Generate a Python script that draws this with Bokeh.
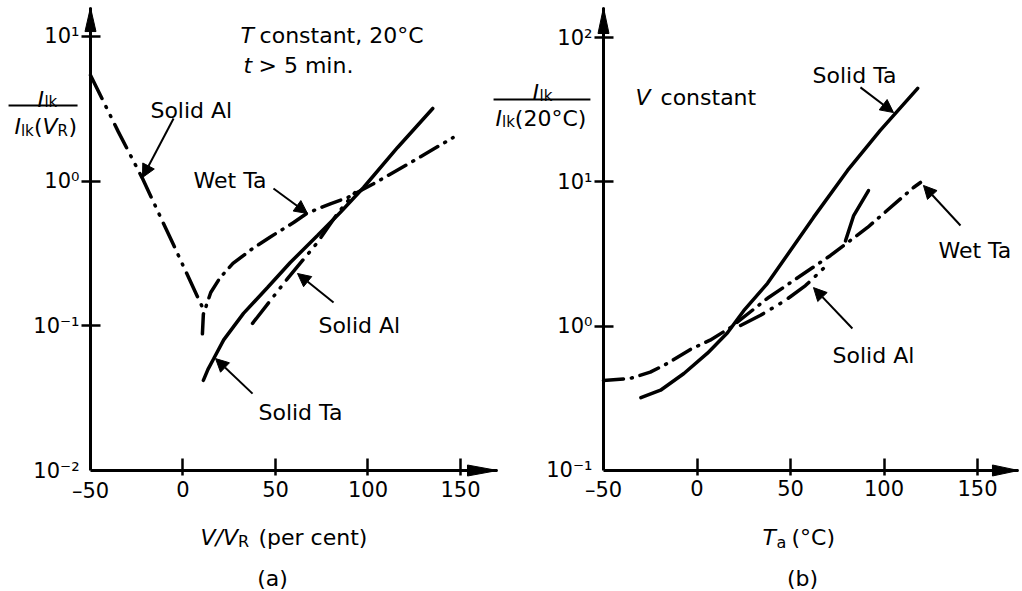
from bokeh.plotting import figure
from bokeh.models import (Label, Arrow, NormalHead, FixedTicker, Range1d,
                          LinearAxis, LogAxis, LogScale, LinearScale)
from bokeh.embed import file_html
from bokeh.resources import INLINE

FONT = "DejaVu Sans"

# ---- (a) leakage current ratio vs applied voltage (per cent of rated), 20 degC ----
a_al_rev_x = [-50, -35, -22, -5, 11]
a_al_rev_y = [5.4, 2.2, 1.05, 0.36, 0.13]

a_al_fwd_x = [37.6, 56.5, 72.7, 83.5, 93]
a_al_fwd_y = [0.104, 0.212, 0.377, 0.598, 0.835]

a_wet_ta_x = [10.5, 11, 15, 20, 27, 38, 47, 60, 67, 80, 89, 103, 125, 146]
a_wet_ta_y = [0.088, 0.12, 0.17, 0.215, 0.27, 0.345, 0.41, 0.52, 0.6, 0.70, 0.77, 0.96, 1.39, 2.0]

a_solid_ta_x = [11, 13.5, 16.5, 22, 32.7, 45.7, 58, 72.7, 85, 97.6, 116, 135]
a_solid_ta_y = [0.042, 0.050, 0.059, 0.080, 0.122, 0.184, 0.274, 0.421, 0.607, 0.904, 1.71, 3.18]

a_x_ticks = [0, 50, 100, 150]
a_y_ticks = [0.1, 1, 10]
a_y_labels = {0.1: "10\u207b\u00b9", 1: "10\u2070", 10: "10\u00b9"}

# ---- (b) leakage current ratio vs ambient temperature, constant voltage ----
b_solid_ta_x = [-30, -19.5, -7, 5.6, 16.3, 25, 37.7, 62.3, 80.5, 98, 118]
b_solid_ta_y = [0.32, 0.36, 0.47, 0.65, 0.90, 1.28, 1.98, 5.67, 12.0, 22.7, 44.4]

b_wet_ta_x = [-50, -35.6, -25, -16, -3.5, 7, 18, 37.7, 51.6, 71.4, 91.2, 115.8, 119.5]
b_wet_ta_y = [0.42, 0.435, 0.48, 0.55, 0.69, 0.80, 0.98, 1.56, 2.07, 3.09, 4.83, 9.14, 9.9]

b_wet_ta_hook_x = [79.4, 83.7, 91.7]
b_wet_ta_hook_y = [3.9, 5.8, 8.7]

b_al_x = [23.3, 34, 47.3, 58, 67.6]
b_al_y = [1.01, 1.19, 1.51, 1.91, 2.51]

b_x_ticks = [0, 50, 100, 150]
b_y_ticks = [1, 10, 100]
b_y_labels = {1: "10\u2070", 10: "10\u00b9", 100: "10\u00b2"}

DASH_DOT = "20 8 1 8"
DASH_DOT_DOT = "26 9 1 9 1 9"
LW = 3.5

# One canvas; panel (a) uses the default ranges, panel (b) the named "b" ranges.
p = figure(width=1022, height=591,
           x_range=Range1d(-98.65, 453.8),
           y_range=Range1d(10 ** -2.8363, 10 ** 1.2488), y_axis_type="log",
           title=None, output_backend="svg", toolbar_location=None,
           min_border=0, min_border_left=0, min_border_right=0,
           min_border_top=0, min_border_bottom=0)
p.extra_x_ranges = {"b": Range1d(-372.46, 174.06)}
p.extra_y_ranges = {"b": Range1d(10 ** -1.8384, 10 ** 2.2564)}
p.extra_x_scales = {"b": LinearScale()}
p.extra_y_scales = {"b": LogScale()}
p.xgrid.visible = False
p.ygrid.visible = False
p.outline_line_color = None
p.background_fill_color = "white"
p.border_fill_color = "white"

A = dict(x_range_name="default", y_range_name="default")
B = dict(x_range_name="b", y_range_name="b")


def style_axes(xa, ya, x_end, y_start, y_end):
    for ax in (xa, ya):
        ax.axis_line_width = 3
        ax.axis_line_color = "black"
        ax.major_tick_line_width = 2.5
        ax.major_tick_line_color = "black"
        ax.minor_tick_line_color = None
        ax.major_label_text_font = FONT
        ax.major_label_text_font_size = "21px"
        ax.major_label_text_color = "black"
    xa.fixed_location = y_start
    xa.bounds = (-50, x_end)
    ya.fixed_location = -50
    ya.bounds = (y_start, y_end)
    xa.major_tick_in = 12
    xa.major_tick_out = 5
    xa.major_label_standoff = 5
    ya.major_tick_in = 10
    ya.major_tick_out = 9
    ya.major_label_standoff = 2


def text(rng, x, y, s, size=22, italic=False, align="left", baseline="alphabetic"):
    p.add_layout(Label(x=x, y=y, text=s, text_font=FONT, text_font_size=f"{size}px",
                       text_font_style="italic" if italic else "normal",
                       text_color="black", text_align=align, text_baseline=baseline, **rng))


def pointer(rng, x0, y0, x1, y1):
    p.add_layout(Arrow(x_start=x0, y_start=y0, x_end=x1, y_end=y1, line_width=2,
                       line_color="black",
                       end=NormalHead(size=13, fill_color="black", line_color="black"), **rng))


def rule(rng, x0, x1, y):
    p.add_layout(Arrow(x_start=x0, y_start=y, x_end=x1, y_end=y, line_width=2,
                       line_color="black", end=None, **rng))


def axis_heads(rng, x_end, y_start, y_end, px_x, px_dec, len_x, len_y):
    # filled arrow tips at the far ends of both axes
    half = 5.5
    dy = 10 ** (half / px_dec)
    p.patch([x_end, x_end - len_x / px_x, x_end - len_x / px_x],
            [y_start, y_start * dy, y_start / dy],
            fill_color="black", line_color="black", line_width=1, **rng)
    y_base = y_end / 10 ** (len_y / px_dec)
    p.patch([-50, -50 - half / px_x, -50 + half / px_x],
            [y_end, y_base, y_base],
            fill_color="black", line_color="black", line_width=1, **rng)


def curve(rng, xs, ys, dash="solid"):
    p.line(xs, ys, line_width=LW, line_color="black", line_dash=dash, line_cap="round", **rng)


# ================= panel (a) =================
xa_a, ya_a = p.xaxis[0], p.yaxis[0]
style_axes(xa_a, ya_a, 170, 0.01, 10 ** 1.2)
xa_a.ticker = FixedTicker(ticks=a_x_ticks)
ya_a.ticker = FixedTicker(ticks=a_y_ticks)
ya_a.major_label_overrides = a_y_labels

curve(A, a_al_rev_x, a_al_rev_y, DASH_DOT_DOT)
curve(A, a_al_fwd_x, a_al_fwd_y, DASH_DOT_DOT)
curve(A, a_wet_ta_x, a_wet_ta_y, DASH_DOT)
curve(A, a_solid_ta_x, a_solid_ta_y)

axis_heads(A, 170, 0.01, 10 ** 1.2, 1.85, 144.67, 30, 24)
text(A, -50, 10 ** -2.057, "\u201350", size=21, align="center", baseline="top")
text(A, -55.9, 0.01, "10\u207b\u00b2", size=21, align="right", baseline="middle")

text(A, 31.1, 10 ** 1.007, "T", italic=True)
text(A, 41.4, 10 ** 1.007, "constant, 20\u00b0C")
text(A, 32.7, 10 ** 0.80, "t", italic=True)
text(A, 40.8, 10 ** 0.80, "> 5 min.")

text(A, -17.6, 3.07, "Solid Al")
pointer(A, -5.1, 2.71, -21.9, 1.06)
text(A, 5.7, 1.01, "Wet Ta")
pointer(A, 48.9, 0.889, 67.3, 0.598)
text(A, 73.2, 0.1005, "Solid Al")
pointer(A, 81.4, 0.145, 61.9, 0.230)
text(A, 40.8, 0.0252, "Solid Ta")
pointer(A, 37.6, 0.0340, 17.6, 0.0594)

# y axis quantity: I_lk / I_lk(V_R)
rule(A, -94.3, -57.0, 3.334)
text(A, -78.6, 3.67, "I", italic=True)
text(A, -74.9, 3.50, "lk", size=15)
text(A, -91.1, 2.388, "I", italic=True)
text(A, -87.6, 2.239, "lk", size=15)
text(A, -80.6, 2.388, "(")
text(A, -75.9, 2.388, "V", italic=True)
text(A, -67.8, 2.239, "R", size=15)
text(A, -61.9, 2.388, ")")

# x axis quantity and panel tag
text(A, 9.5, 10 ** -2.463, "V/V", italic=True)
text(A, 29.7, 10 ** -2.491, "R", size=16)
text(A, 40.8, 10 ** -2.463, "(per cent)")
text(A, 48.4, 10 ** -2.7465, "(a)", align="center")

# ================= panel (b) =================
xa_b = LinearAxis(**B)
ya_b = LogAxis(**B)
p.add_layout(xa_b, "below")
p.add_layout(ya_b, "left")
style_axes(xa_b, ya_b, 171.9, 0.1, 10 ** 2.208)
xa_b.ticker = FixedTicker(ticks=b_x_ticks)
ya_b.ticker = FixedTicker(ticks=b_y_ticks)
ya_b.major_label_overrides = b_y_labels

curve(B, b_wet_ta_x, b_wet_ta_y, DASH_DOT)
curve(B, b_wet_ta_hook_x, b_wet_ta_hook_y)
curve(B, b_al_x, b_al_y, DASH_DOT_DOT)
curve(B, b_solid_ta_x, b_solid_ta_y)

axis_heads(B, 171.9, 0.1, 10 ** 2.208, 1.87, 144.33, 26, 26)
text(B, -50, 10 ** -1.055, "\u201350", size=21, align="center", baseline="top")
text(B, -55.9, 0.1, "10\u207b\u00b9", size=21, align="right", baseline="middle")

text(B, -32.9, 38.4, "V", italic=True)
text(B, -19.5, 38.4, "constant")
text(B, 61.8, 54.6, "Solid Ta")
pointer(B, 87.4, 45.1, 105.1, 30.2)
text(B, 129.1, 3.34, "Wet Ta")
pointer(B, 140.9, 4.98, 121.1, 9.44)
text(B, 72.5, 0.627, "Solid Al")
pointer(B, 83.1, 0.964, 62.3, 1.85)

# y axis quantity: I_lk / I_lk(20 degC)
rule(B, -108.8, -57.0, 37.15)
text(B, -88.0, 41.6, "I", italic=True)
text(B, -84.2, 39.6, "lk", size=15)
text(B, -107.8, 27.5, "I", italic=True)
text(B, -104.3, 25.8, "lk", size=15)
text(B, -97.4, 27.5, "(20\u00b0C)")

# x axis quantity and panel tag
text(B, 35.0, 10 ** -1.464, "T", italic=True)
text(B, 42.5, 10 ** -1.499, "a", size=16)
text(B, 50.5, 10 ** -1.464, "(\u00b0C)")
text(B, 56.4, 10 ** -1.7484, "(b)", align="center")

open("out.html", "w").write(file_html(p, INLINE))
